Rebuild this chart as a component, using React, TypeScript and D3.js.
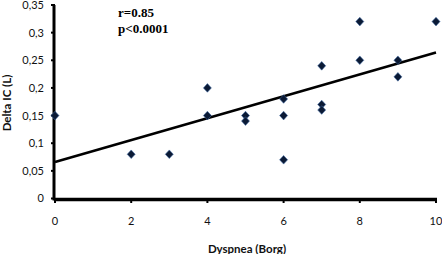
import React from "react";
import * as d3 from "d3";

const dyspnea = [0, 2, 3, 4, 4, 5, 5, 6, 6, 6, 7, 7, 7, 8, 8, 9, 9, 10];
const deltaIC = [0.15, 0.08, 0.08, 0.2, 0.15, 0.15, 0.14, 0.18, 0.15, 0.07, 0.24, 0.17, 0.16, 0.32, 0.25, 0.25, 0.22, 0.32];
const xTicks = [0, 2, 4, 6, 8, 10];
const yTicks = [0, 0.05, 0.1, 0.15, 0.2, 0.25, 0.3, 0.35];
const trendX = [0, 10];
const trendY = [0.066, 0.264];
const annotation = ["r=0.85", "p<0.0001"];

const W = 442;
const H = 254;

export default function App() {
  const x = d3.scaleLinear().domain([0, 10]).range([55, 436]);
  const y = d3.scaleLinear().domain([0, 0.35]).range([198.5, 5]);
  const fmt = (v: number) => String(+v.toFixed(2)).replace(".", ",");
  const line = d3
    .line<number>()
    .x((d) => x(trendX[d]))
    .y((d) => y(trendY[d]));
  const diamond = d3.symbol().type(d3.symbolSquare).size(32)();
  const font = "Lato, 'Open Sans', sans-serif";
  return (
    <svg
      width={W}
      height={H}
      style={{ position: "absolute", left: 0, top: 0, background: "#fff" }}
    >
      {/* y ticks */}
      {yTicks.map((t) => (
        <g key={"y" + t}>
          <line x1={51} x2={55} y1={y(t)} y2={y(t)} stroke="#000" strokeWidth={2} />
          <text
            x={44}
            y={y(t)}
            dy="0.36em"
            textAnchor="end"
            fontFamily={font}
            fontSize={11}
            fill="#111"
          >
            {fmt(t)}
          </text>
        </g>
      ))}
      {/* x ticks */}
      {xTicks.map((t) => (
        <g key={"x" + t}>
          <line x1={x(t)} x2={x(t)} y1={199} y2={203} stroke="#000" strokeWidth={2} />
          <text
            x={x(t)}
            y={225}
            textAnchor="middle"
            fontFamily={font}
            fontSize={11}
            fill="#111"
          >
            {t}
          </text>
        </g>
      ))}
      {/* axes */}
      <line x1={54} x2={54} y1={y(0.35)} y2={200.5} stroke="#000" strokeWidth={3} />
      <line x1={54} x2={437} y1={199.5} y2={199.5} stroke="#000" strokeWidth={3.5} />
      {/* trendline */}
      <path d={line([0, 1]) || ""} fill="none" stroke="#000" strokeWidth={2.6} />
      {/* points */}
      {dyspnea.map((d, i) => (
        <path
          key={i}
          d={diamond || ""}
          transform={`translate(${x(d)},${y(deltaIC[i])}) scale(1,1.08) rotate(45)`}
          fill="#0b1a35"
          stroke="#3f6aa6"
          strokeWidth={0.5}
        />
      ))}
      {/* annotation */}
      {annotation.map((a, i) => (
        <text
          key={a}
          x={118}
          y={17 + i * 15.5}
          fontFamily="'Liberation Serif', 'Times New Roman', serif"
          fontWeight="bold"
          fontSize={13}
          fill="#000"
        >
          {a}
        </text>
      ))}
      {/* axis titles */}
      <text
        x={247}
        y={253}
        textAnchor="middle"
        fontFamily={font}
        fontWeight="bold"
        fontSize={11.5}
        fill="#111"
      >
        Dyspnea (Borg)
      </text>
      <text
        transform={`translate(11,103) rotate(-90)`}
        textAnchor="middle"
        fontFamily={font}
        fontWeight="bold"
        fontSize={11.5}
        fill="#111"
      >
        Delta IC (L)
      </text>
    </svg>
  );
}
